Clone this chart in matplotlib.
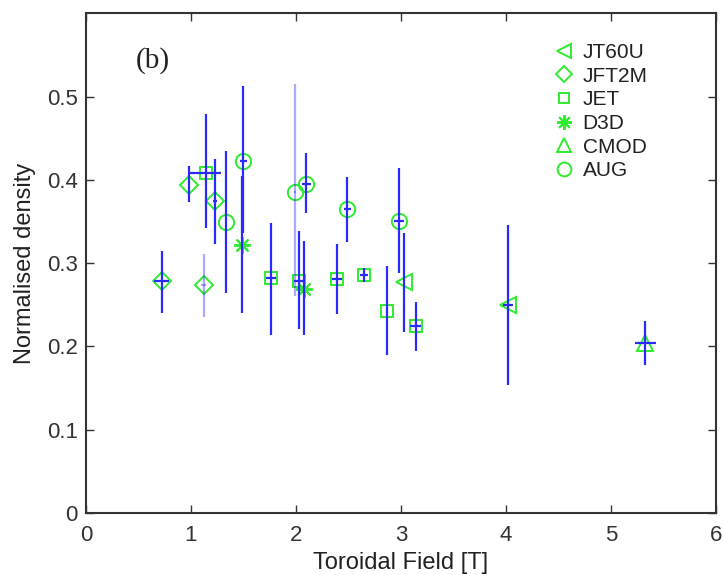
import numpy as np
import matplotlib
matplotlib.use("Agg")
import matplotlib.pyplot as plt

plt.rcParams['font.family'] = ['Liberation Sans', 'DejaVu Sans']

# data per device: x, y, x error, lower/upper y of error bar
devices = ['JT60U', 'JFT2M', 'JET', 'D3D', 'CMOD', 'AUG']

jt60u_x = [3.03, 4.02]
jt60u_y = [0.277, 0.250]
jt60u_xerr = [0.01, 0.05]
jt60u_ylo = [0.217, 0.153]
jt60u_yhi = [0.336, 0.346]

jft2m_x = [0.72, 0.98, 1.12, 1.23]
jft2m_y = [0.278, 0.394, 0.274, 0.374]
jft2m_xerr = [0.07, 0.01, 0.02, 0.02]
jft2m_ylo = [0.240, 0.373, 0.235, 0.323]
jft2m_yhi = [0.315, 0.417, 0.311, 0.425]

jet_x = [1.14, 1.76, 2.03, 2.39, 2.65, 2.87, 3.14]
jet_y = [0.408, 0.282, 0.279, 0.281, 0.286, 0.243, 0.224]
jet_xerr = [0.15, 0.05, 0.05, 0.05, 0.04, 0.01, 0.05]
jet_ylo = [0.342, 0.214, 0.221, 0.239, 0.277, 0.190, 0.195]
jet_yhi = [0.479, 0.348, 0.338, 0.323, 0.294, 0.297, 0.253]

d3d_x = [1.49, 2.08]
d3d_y = [0.322, 0.269]
d3d_xerr = [0.01, 0.01]
d3d_ylo = [0.240, 0.214]
d3d_yhi = [0.404, 0.327]

cmod_x = [5.33]
cmod_y = [0.204]
cmod_xerr = [0.10]
cmod_ylo = [0.177]
cmod_yhi = [0.230]

aug_x = [1.33, 1.50, 1.99, 2.10, 2.49, 2.98]
aug_y = [0.349, 0.423, 0.385, 0.395, 0.365, 0.351]
aug_xerr = [0.01, 0.03, 0.01, 0.04, 0.03, 0.05]
aug_ylo = [0.264, 0.336, 0.260, 0.360, 0.325, 0.288]
aug_yhi = [0.434, 0.513, 0.515, 0.432, 0.403, 0.414]

xticks = [0, 1, 2, 3, 4, 5, 6]
yticks = [0, 0.1, 0.2, 0.3, 0.4, 0.5]
ytick_labels = ['0', '0.1', '0.2', '0.3', '0.4', '0.5']

data = {
    'JT60U': (jt60u_x, jt60u_y, jt60u_xerr, jt60u_ylo, jt60u_yhi),
    'JFT2M': (jft2m_x, jft2m_y, jft2m_xerr, jft2m_ylo, jft2m_yhi),
    'JET': (jet_x, jet_y, jet_xerr, jet_ylo, jet_yhi),
    'D3D': (d3d_x, d3d_y, d3d_xerr, d3d_ylo, d3d_yhi),
    'CMOD': (cmod_x, cmod_y, cmod_xerr, cmod_ylo, cmod_yhi),
    'AUG': (aug_x, aug_y, aug_xerr, aug_ylo, aug_yhi),
}
markers = {'JT60U': '<', 'JFT2M': 'D', 'JET': 's', 'D3D': (8, 2, 0), 'CMOD': '^', 'AUG': 'o'}
msizes = {'JT60U': 11, 'JFT2M': 9, 'JET': 8.5, 'D3D': 12, 'CMOD': 11, 'AUG': 11}
faint = {('JFT2M', 2), ('AUG', 2)}  # washed-out error bars

green = '#2eec2e'
blue = '#2a2aff'

fig = plt.figure(figsize=(7.23, 5.75), dpi=100)
ax = fig.add_axes([0.119, 0.108, 0.871, 0.869])

for name in devices:
    x, y, xerr, ylo, yhi = [np.array(v) for v in data[name]]
    ax.plot(x, y, linestyle='none', marker=markers[name], ms=msizes[name], mfc='none',
            mec=green, mew=1.4, label=name, zorder=2)
    for i in range(len(x)):
        a = 0.4 if (name, i) in faint else 1.0
        ax.errorbar(x[i], y[i], xerr=xerr[i], yerr=[[y[i] - ylo[i]], [yhi[i] - y[i]]],
                    fmt='none', ecolor=blue, elinewidth=1.6, capsize=0, alpha=a, zorder=3)

ax.set_xlim(0, 6)
ax.set_ylim(0, 0.6)
ax.set_xticks(xticks)
ax.set_yticks(yticks)
ax.set_yticklabels(ytick_labels)
ax.tick_params(direction='in', top=True, right=True, length=6, width=1,
               labelsize=16, colors='#333333')
ax.tick_params(axis='x', pad=9)
ax.tick_params(axis='y', pad=6)
for s in ax.spines.values():
    s.set_color('#333333')
    s.set_linewidth(1.5)

ax.set_xlabel('Toroidal Field [T]', fontsize=17, color='#222222', labelpad=4)
ax.set_ylabel('Normalised density', fontsize=17, color='#222222', labelpad=8)

ax.text(0.64, 0.543, '(b)', fontsize=21, family='Liberation Serif',
        ha='center', va='center', color='#222222')

leg = ax.legend(loc='upper left', bbox_to_anchor=(0.744, 0.94), frameon=False,
                fontsize=15, handlelength=0.9, handletextpad=0.45, labelspacing=0.22,
                markerscale=0.9, borderaxespad=0, borderpad=0)
for t in leg.get_texts():
    t.set_color('#222222')

fig.savefig('out.png', dpi=100)
